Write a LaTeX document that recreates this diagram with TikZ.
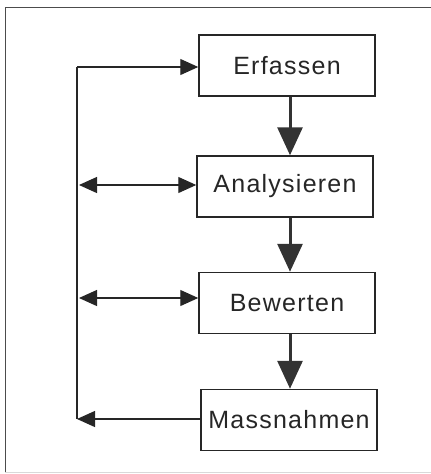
\documentclass[tikz,border=0pt]{standalone}
\usepackage{fontspec}
\setmainfont{Liberation Sans}[LetterSpace=5]
\usetikzlibrary{arrows.meta}
\tikzset{stip/.tip={Triangle[length=18pt,width=16pt]}}
\begin{document}
\begin{tikzpicture}[x=1pt,y=1pt,
  box/.style={draw=black!85, line width=1.5pt, minimum width=176pt, minimum height=61pt, inner sep=0pt, font=\fontsize{25}{28}\selectfont, text=black!85},
  flow/.style={draw=black!80, line width=3pt, -{Triangle[length=28pt,width=25pt]}},
  side/.style={draw=black!85, line width=1.2pt}]
\useasboundingbox (0,0) rectangle (431,-474);
\draw[black!70, line width=1pt] (440,-7.5) -- (5,-7.5) -- (5,-473);
\draw[black!15, line width=1pt] (5,-472.5) -- (440,-472.5);
\node[box] (e) at (287,-65.5) {Erfassen};
\node[box] (a) at (285,-186.5) {Analysieren};
\node[box] (b) at (287,-303) {Bewerten};
\node[box] (m) at (289,-420) {Massnahmen};
\coordinate (le) at (77,-67);
\coordinate (la) at (77,-185);
\coordinate (lb) at (77,-298);
\coordinate (lm) at (77,-419);
\draw[flow] (e.south -| 290,0) -- (a.north -| 290,0);
\draw[flow] (a.south -| 290,0) -- (b.north -| 290,0);
\draw[flow] (b.south -| 290,0) -- (m.north -| 290,0);
\draw[side] (le) -- (lm);
\draw[side, -{stip}] (le) -- (le -| e.west);
\draw[side, {stip}-{stip}] ([xshift=2pt]la) -- (la -| a.west);
\draw[side, {stip}-{stip}] ([xshift=2pt]lb) -- (lb -| b.west);
\draw[side, -{stip}] (lm -| m.west) -- (lm);
\end{tikzpicture}
\end{document}
